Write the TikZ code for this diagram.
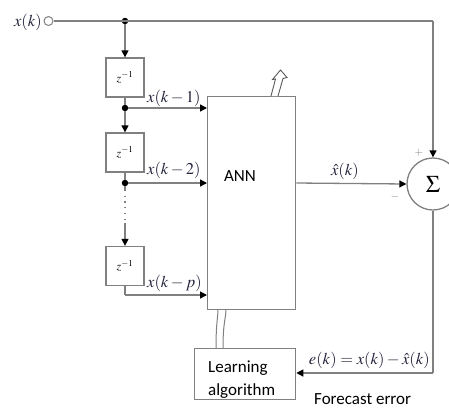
\documentclass[tikz,border=0pt]{standalone}
\usepackage{mathptmx}
\usepackage[no-math]{fontspec}
\setmainfont{Liberation Serif}
\newfontfamily\carl{Carlito}
\usetikzlibrary{arrows.meta}
\definecolor{ln}{gray}{0.5}
\definecolor{tx}{RGB}{35,35,60}
\tikzset{
 wire/.style={draw=ln, line width=1.3pt},
 arr/.style={wire, -{Triangle[color=black,width=7pt,length=7pt]}},
 dblk/.style={draw=ln, line width=1.3pt, minimum width=38pt, minimum height=39pt, inner sep=0pt, font=\fontsize{12}{14}\selectfont},
 junc/.style={circle, fill=black, inner sep=0pt, minimum size=6.5pt},
 lab/.style={text=tx, font=\fontsize{16.5}{18}\selectfont, inner sep=0pt},
 ctext/.style={font=\carl\fontsize{17}{20}\selectfont, inner sep=0pt},
}
\begin{document}
\begin{tikzpicture}[x=1pt,y=-1pt]
\useasboundingbox (0,0) rectangle (449,408);
% input
\node[lab, anchor=base east] (xk) at (42,26) {$x(k)$};
\node[draw=ln, circle, line width=1pt, minimum size=9pt, inner sep=0pt] (in) at (48.5,21) {};
\node[junc] (j0) at (125,21) {};
\coordinate (tr) at (433,21);
% delay line
\node[dblk] (d1) at (125,77.5) {$z^{-1}$};
\node[junc] (j1) at (125,108) {};
\node[dblk] (d2) at (125,152.5) {$z^{-1}$};
\node[junc] (j2) at (125,183) {};
\coordinate (c1) at (125,190);
\coordinate (c2) at (125,223);
\node[dblk] (d3) at (125,266) {$z^{-1}$};
\coordinate (b3) at (125,295);
% ANN
\node[draw=ln, line width=1.3pt, minimum width=88pt, minimum height=213pt, anchor=north west, inner sep=0pt] (ann) at (207,96) {};
\node[ctext] (annt) at (240,176) {ANN};
% sum
\node[draw=ln, circle, line width=1.3pt, minimum size=52pt, inner sep=0pt, font=\fontsize{24}{26}\selectfont] (sum) at (433,184) {$\Sigma$};
\node[lab, text=ln, font=\fontsize{11}{12}\selectfont] (plus) at (419,153) {$+$};
\node[lab, text=ln, font=\fontsize{11}{12}\selectfont] (minus) at (395,197) {$-$};
% learning
\node[draw=ln, line width=1.3pt, minimum width=101pt, minimum height=51pt, anchor=north west, inner sep=0pt] (learn) at (194,348) {};
\node[ctext, anchor=base west] (l1) at (208,372) {Learning};
\node[ctext, anchor=base west] (l2) at (208,395) {algorithm};
\coordinate (br) at (433,373);
\node[ctext, anchor=base west] (fe) at (314,404) {Forecast error};
% wires
\draw[wire] (in) -- (tr);
\draw[arr] (tr) -- (sum.north);
\draw[arr] (j0) -- (d1.north);
\draw[wire] (d1.south) -- (j1);
\draw[arr] (j1) -- (d2.north);
\draw[wire] (d2.south) -- (j2);
\draw[wire] (j2) -- (c1);
\draw[draw=ln, line width=1.3pt, dash pattern=on 1.2pt off 4.5pt] (c1) -- (c2);
\draw[arr] (c2) -- (d3.north);
\draw[wire] (d3.south) -- (b3);
\draw[arr] (j1) -- (j1 -| ann.west);
\draw[arr] (j2) -- (j2 -| ann.west);
\draw[arr] (b3) -- (b3 -| ann.west);
\draw[arr] (j2 -| ann.east) -- (sum.west);
\draw[wire] (sum.south) -- (br);
\draw[arr] (br) -- (br -| learn.east);
% labels
\node[lab, anchor=base west] (lx1) at (147,102) {$x(k-1)$};
\node[lab, anchor=base west] (lx2) at (147,174) {$x(k-2)$};
\node[lab, anchor=base west] (lxp) at (147,287) {$x(k-p)$};
\node[lab, anchor=base] (lxh) at (345,175) {$\hat{x}(k)$};
\node[lab, anchor=base east] (le) at (430,364) {$e(k)=x(k)-\hat{x}(k)$};
% adaptation arrow (top)
\draw[draw=ln!70!black, line width=0.9pt, fill=white, line join=miter]
  (271,96) -- (275.5,79) -- (272.5,79.5) -- (280.5,70) -- (287,77.5) -- (283,78.5) -- (278,96);
% learning link (bottom)
\draw[wire, line width=1pt] (218,309) .. controls (218,318) and (216,322) .. (216,348);
\draw[wire, line width=1pt] (226,309) .. controls (226,318) and (223,322) .. (223,348);
\end{tikzpicture}
\end{document}
